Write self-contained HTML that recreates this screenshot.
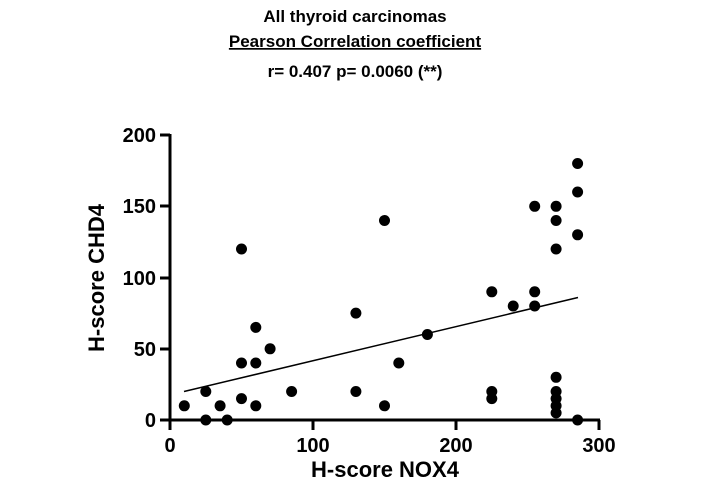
<!DOCTYPE html><html><head><style>body{margin:0;background:#fff}</style></head><body>
<svg width="706" height="497" xmlns="http://www.w3.org/2000/svg" font-family="Liberation Sans, sans-serif" font-weight="bold">
<text x="355" y="22" text-anchor="middle" font-size="17">All thyroid carcinomas</text>
<text x="355" y="47" text-anchor="middle" font-size="17" text-decoration="underline">Pearson Correlation coefficient</text>
<text x="355" y="77" text-anchor="middle" font-size="17">r= 0.407  p= 0.0060 (**)</text>
<g stroke="#000" stroke-width="3" fill="none">
<path d="M170 134V420H600"/>
<path d="M160 135H170M160 206H170M160 278H170M160 349H170M160 420H170"/>
<path d="M170 420V430M313 420V430M456 420V430M599 420V430"/>
</g>
<line x1="184" y1="391.5" x2="578" y2="297.5" stroke="#000" stroke-width="1.5"/>
<g font-size="20" text-anchor="end">
<text x="156" y="142">200</text><text x="156" y="213">150</text><text x="156" y="285">100</text><text x="156" y="356">50</text><text x="156" y="427">0</text>
</g>
<g font-size="20" text-anchor="middle">
<text x="170" y="452">0</text><text x="313" y="452">100</text><text x="456" y="452">200</text><text x="599" y="452">300</text>
</g>
<text x="385" y="477" text-anchor="middle" font-size="22">H-score NOX4</text>
<text transform="translate(104,278) rotate(-90)" text-anchor="middle" font-size="22">H-score CHD4</text>
<g fill="#000">
<circle cx="184.3" cy="405.8" r="5.5"/>
<circle cx="205.8" cy="391.5" r="5.5"/>
<circle cx="205.8" cy="420" r="5.5"/>
<circle cx="220.1" cy="405.8" r="5.5"/>
<circle cx="227.2" cy="420" r="5.5"/>
<circle cx="241.5" cy="249" r="5.5"/>
<circle cx="241.5" cy="363" r="5.5"/>
<circle cx="241.5" cy="398.6" r="5.5"/>
<circle cx="255.8" cy="327.4" r="5.5"/>
<circle cx="255.8" cy="363" r="5.5"/>
<circle cx="255.8" cy="405.8" r="5.5"/>
<circle cx="270.1" cy="348.8" r="5.5"/>
<circle cx="291.6" cy="391.5" r="5.5"/>
<circle cx="355.9" cy="313.1" r="5.5"/>
<circle cx="355.9" cy="391.5" r="5.5"/>
<circle cx="384.5" cy="220.5" r="5.5"/>
<circle cx="384.5" cy="405.8" r="5.5"/>
<circle cx="398.8" cy="363" r="5.5"/>
<circle cx="427.4" cy="334.5" r="5.5"/>
<circle cx="491.8" cy="291.8" r="5.5"/>
<circle cx="491.8" cy="391.5" r="5.5"/>
<circle cx="491.8" cy="398.6" r="5.5"/>
<circle cx="513.2" cy="306" r="5.5"/>
<circle cx="534.7" cy="206.3" r="5.5"/>
<circle cx="534.7" cy="291.8" r="5.5"/>
<circle cx="534.7" cy="306" r="5.5"/>
<circle cx="556.1" cy="206.3" r="5.5"/>
<circle cx="556.1" cy="220.5" r="5.5"/>
<circle cx="556.1" cy="249" r="5.5"/>
<circle cx="556.1" cy="377.3" r="5.5"/>
<circle cx="556.1" cy="391.5" r="5.5"/>
<circle cx="556.1" cy="398.6" r="5.5"/>
<circle cx="556.1" cy="405.8" r="5.5"/>
<circle cx="556.1" cy="412.9" r="5.5"/>
<circle cx="577.6" cy="163.5" r="5.5"/>
<circle cx="577.6" cy="192" r="5.5"/>
<circle cx="577.6" cy="234.8" r="5.5"/>
<circle cx="577.6" cy="420" r="5.5"/>
</g>
</svg></body></html>
